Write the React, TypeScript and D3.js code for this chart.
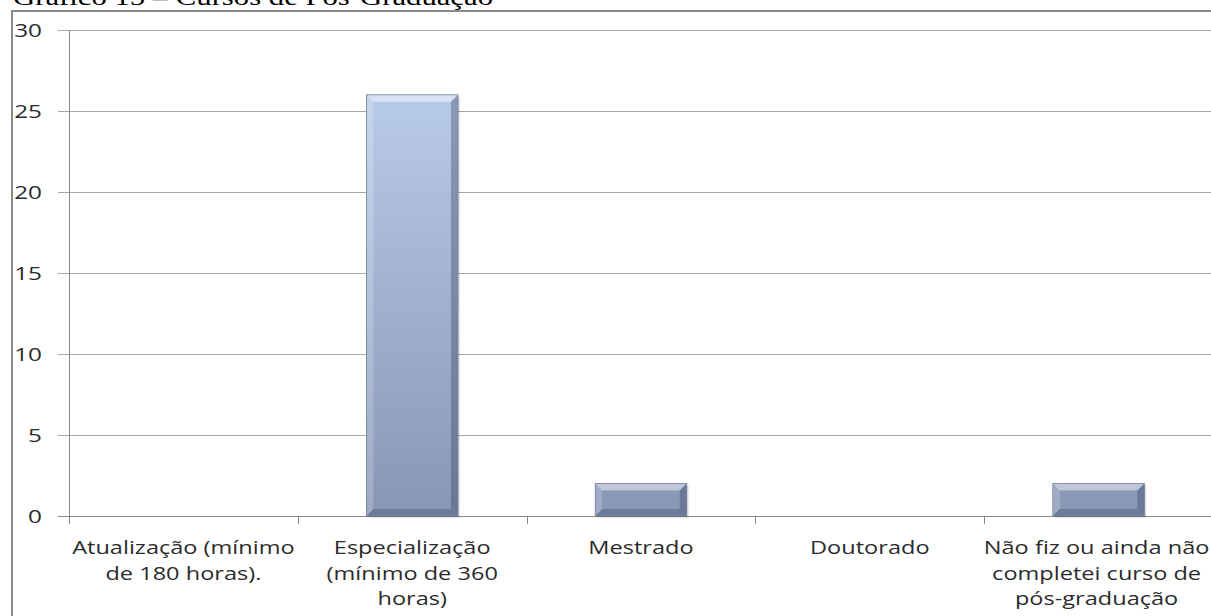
import React from "react";
import * as d3 from "d3";

const categories: string[][] = [
  ["Atualização (mínimo", "de 180 horas)."],
  ["Especialização", "(mínimo de 360", "horas)"],
  ["Mestrado"],
  ["Doutorado"],
  ["Não fiz ou ainda não", "completei curso de", "pós-graduação"],
];
const values: number[] = [0, 26, 2, 0, 2];
const yTicks: number[] = [0, 5, 10, 15, 20, 25, 30];
const title = "Gráfico 15 – Cursos de Pós-Graduação";

const W = 1211;
const H = 616;
const SX = 1.24;
const FONT = "'Open Sans', 'DejaVu Sans', sans-serif";

export default function App() {
  const left = 69;
  const right = 1213;
  const top = 30;
  const bottom = 516;
  const keys = categories.map((_, i) => String(i));
  const x = d3.scaleBand<string>().domain(keys).range([left, right]).paddingInner(0).paddingOuter(0);
  const y = d3.scaleLinear().domain([0, 30]).range([bottom, top]);
  const bw = x.bandwidth() * 0.4;
  const bev = 7;

  React.useEffect(() => {
    document.body.style.margin = "0";
  }, []);

  return (
    <svg width={W} height={H} style={{ display: "block", position: "absolute", left: 0, top: 0, background: "#fff" }}>
      <defs>
        <linearGradient id="barGradS" gradientUnits="userSpaceOnUse" x1="0" y1={y(26)} x2="0" y2={bottom}>
          <stop offset="0%" stopColor="#b9cbea" />
          <stop offset="100%" stopColor="#8796b5" />
        </linearGradient>
      </defs>
      <rect x={0} y={0} width={W} height={H} fill="#fff" />
      {/* title */}
      <g transform={`translate(13,5) scale(1.28,1)`}>
        <text x={0} y={0} fontFamily="'Liberation Serif', 'Times New Roman', serif" fontSize={24} fill="#000">
          {title}
        </text>
      </g>
      {/* frame */}
      <rect x={12} y={11} width={W + 20} height={H + 20} fill="none" stroke="#8a8a8a" strokeWidth={2} />
      {/* gridlines */}
      {yTicks.map((t) => (
        <line key={"g" + t} x1={58} x2={right} y1={Math.round(y(t)) + 0.5} y2={Math.round(y(t)) + 0.5} stroke={t === 0 ? "#8a8a8a" : "#a8a8a8"} strokeWidth={1} />
      ))}
      {/* y axis */}
      <line x1={left + 0.5} x2={left + 0.5} y1={top} y2={bottom + 1} stroke="#8a8a8a" />
      {/* x ticks */}
      {keys.map((k) => (
        <line key={"xt" + k} x1={Math.round(x(k)!) + 0.5} x2={Math.round(x(k)!) + 0.5} y1={bottom} y2={bottom + 8} stroke="#8a8a8a" />
      ))}
      {/* y labels */}
      {yTicks.map((t) => (
        <g key={"yl" + t} transform={`translate(42,${y(t) + 7}) scale(1.28,1)`}>
          <text x={0} y={0} textAnchor="end" fontFamily={FONT} fontSize={19} fill="#2b2b2b">
            {t}
          </text>
        </g>
      ))}
      {/* bars */}
      {values.map((v, i) => {
        if (v <= 0) return null;
        const cx = x(keys[i])! + x.bandwidth() / 2;
        const x0 = cx - bw / 2;
        const x1 = cx + bw / 2;
        const y0 = y(v);
        const y1 = y(0);
        const b = Math.min(bev, (y1 - y0) / 3);
        return (
          <g key={"b" + i}>
            <rect x={x0 + 2} y={y0 + 2} width={bw} height={y1 - y0} fill="#000" opacity={0.12} />
            <rect x={x0} y={y0} width={bw} height={y1 - y0} fill="url(#barGradS)" />
            <polygon points={`${x0},${y0} ${x1},${y0} ${x1 - b},${y0 + b} ${x0 + b},${y0 + b}`} fill="#ffffff" opacity={0.45} />
            <polygon points={`${x0},${y0} ${x0 + b},${y0 + b} ${x0 + b},${y1 - b} ${x0},${y1}`} fill="#ffffff" opacity={0.2} />
            <polygon points={`${x1},${y0} ${x1 - b},${y0 + b} ${x1 - b},${y1 - b} ${x1},${y1}`} fill="#2f3f5c" opacity={0.35} />
            <polygon points={`${x0},${y1} ${x0 + b},${y1 - b} ${x1 - b},${y1 - b} ${x1},${y1}`} fill="#2f3f5c" opacity={0.3} />
            <rect x={x0} y={y0} width={bw} height={y1 - y0} fill="none" stroke="#6d7c98" strokeWidth={0.8} />
          </g>
        );
      })}
      {/* category labels */}
      {categories.map((lines, i) => {
        const cx = x(keys[i])! + x.bandwidth() / 2 - (i === 4 ? 2 : 0);
        return lines.map((ln, j) => (
          <g key={"c" + i + "_" + j} transform={`translate(${cx},${554 + j * 25.5}) scale(${SX},1)`}>
            <text x={0} y={0} textAnchor="middle" fontFamily={FONT} fontSize={19} fill="#2b2b2b">
              {ln}
            </text>
          </g>
        ));
      })}
    </svg>
  );
}
